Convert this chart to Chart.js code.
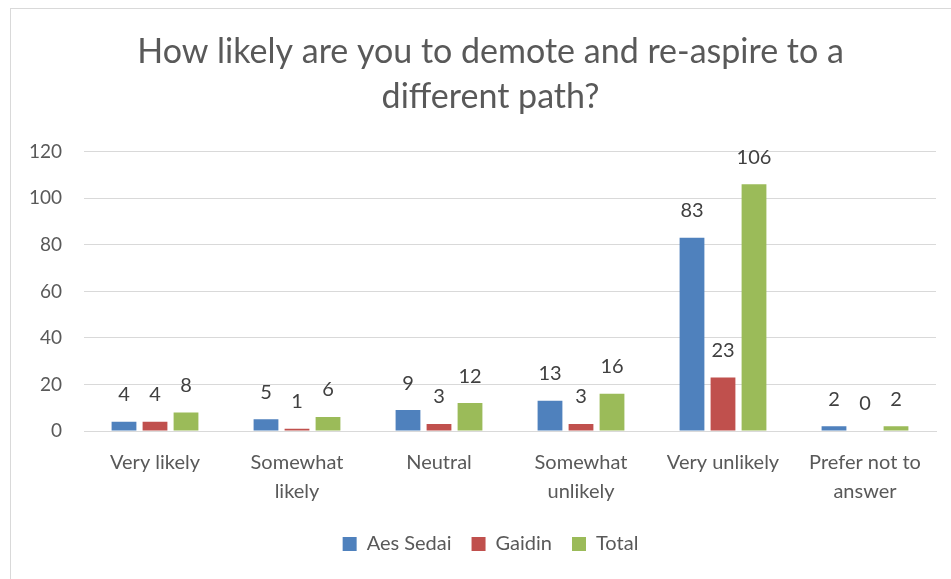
<!DOCTYPE html>
<html>
<head>
<meta charset="utf-8">
<script src="https://cdn.jsdelivr.net/npm/chart.js@4.4.0/dist/chart.umd.min.js"></script>
<style>
  html, body { margin: 0; padding: 0; background: #fff; }
  #wrap { position: relative; width: 951px; height: 579px; overflow: hidden; }
  #frame { position: absolute; left: 10px; top: 8px; width: 960px; height: 600px; border: 1px solid #d9d9d9; box-sizing: border-box; }
  canvas { position: absolute; left: 30px; top: 0; }
</style>
</head>
<body>
<div id="wrap">
  <div id="frame"></div>
  <canvas id="chart" width="921" height="579"></canvas>
</div>
<script>
const categories = [
  ['Very likely'],
  ['Somewhat', 'likely'],
  ['Neutral'],
  ['Somewhat', 'unlikely'],
  ['Very unlikely'],
  ['Prefer not to', 'answer']
];
const aesSedai = [4, 5, 9, 13, 83, 2];
const gaidin = [4, 1, 3, 3, 23, 0];
const total = [8, 6, 12, 16, 106, 2];
const yTicks = [0, 20, 40, 60, 80, 100, 120];

const fontFamily = 'Lato, "Open Sans", sans-serif';

// labels above every bar
const barLabels = {
  id: 'barLabels',
  afterDatasetsDraw(chart) {
    const ctx = chart.ctx;
    ctx.save();
    ctx.font = '20px ' + fontFamily;
    ctx.fillStyle = '#404040';
    ctx.textAlign = 'center';
    ctx.textBaseline = 'middle';
    chart.data.datasets.forEach((ds, i) => {
      chart.getDatasetMeta(i).data.forEach((bar, j) => {
        ctx.fillText(ds.data[j], bar.x, bar.y - 27);
      });
    });
    ctx.restore();
  }
};

const ctx = document.getElementById('chart').getContext('2d');
const chart = new Chart(ctx, {
  type: 'bar',
  data: {
    labels: categories,
    datasets: [
      { label: 'Aes Sedai', data: aesSedai, backgroundColor: '#4f81bd' },
      { label: 'Gaidin', data: gaidin, backgroundColor: '#c0504d' },
      { label: 'Total', data: total, backgroundColor: '#9bbb59' }
    ]
  },
  options: {
    responsive: false,
    animation: false,
    categoryPercentage: 0.655,
    barPercentage: 0.8,
    layout: { padding: { left: 0, right: 0, top: 0, bottom: 15 } },
    plugins: {
      title: {
        display: true,
        text: ['How likely are you to demote and re-aspire to a', 'different path?'],
        color: '#595959',
        font: { family: fontFamily, size: 34, weight: 'normal', lineHeight: 1.32 },
        padding: { top: 30, bottom: 32 }
      },
      legend: {
        position: 'bottom',
        labels: {
          boxWidth: 14,
          boxHeight: 14,
          padding: 20,
          color: '#595959',
          font: { family: fontFamily, size: 20 }
        }
      },
      tooltip: { enabled: false }
    },
    scales: {
      x: {
        afterFit(scale) { scale.height -= 9; },
        grid: { display: false, drawTicks: false },
        border: { color: '#d9d9d9' },
        ticks: {
          color: '#595959',
          padding: 17,
          maxRotation: 0,
          font: { family: fontFamily, size: 20, lineHeight: 1.45 }
        }
      },
      y: {
        min: 0,
        max: 120,
        afterBuildTicks(scale) { scale.ticks = yTicks.map(v => ({ value: v })); },
        afterFit(scale) { scale.width = 54; },
        grid: { color: '#d9d9d9', drawTicks: false },
        border: { display: false },
        ticks: {
          color: '#595959',
          padding: 22,
          font: { family: fontFamily, size: 19 }
        }
      },
      // empty right axis, only keeps the plot off the right edge
      yRight: {
        position: 'right',
        min: 0,
        max: 120,
        afterFit(scale) { scale.width = 15; },
        grid: { display: false, drawTicks: false },
        border: { display: false },
        ticks: { display: false }
      }
    }
  },
  plugins: [barLabels]
});
</script>
</body>
</html>
